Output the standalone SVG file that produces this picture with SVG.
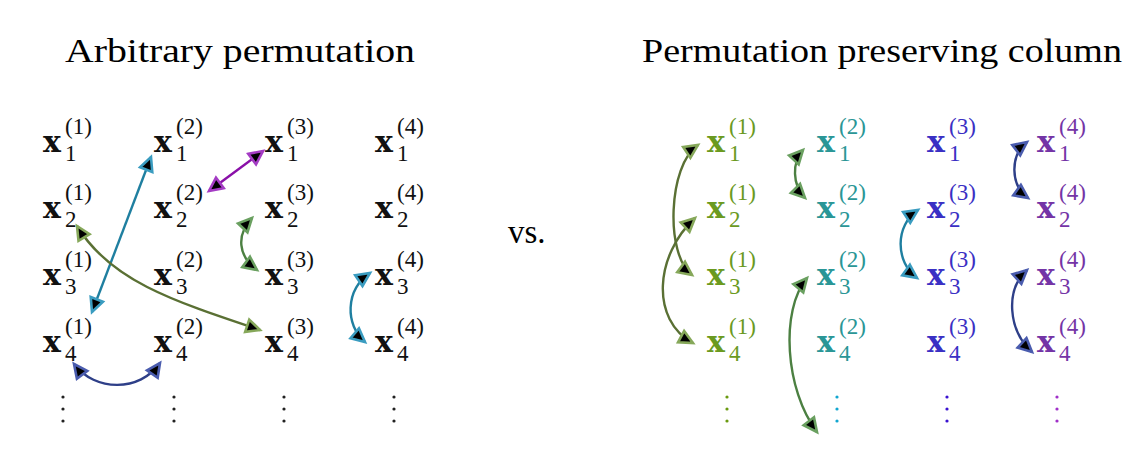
<svg xmlns="http://www.w3.org/2000/svg" width="1137" height="465" viewBox="0 0 1137 465">
<style>
.title{font-family:"Liberation Serif","DejaVu Serif","Times New Roman",serif;font-size:33px;fill:#000}
.m{font-family:"Liberation Serif","DejaVu Serif",serif;font-size:23px}
.bx{font-family:"DejaVu Serif","Liberation Serif",serif;font-weight:bold;font-size:30px}
.k{fill:#111}
.c1{fill:#6b9a1f}.c2{fill:#2a9696}.c3{fill:#3a30c4}.c4{fill:#7434a6}
.ln{fill:none;stroke-width:2.4}
.blue{stroke:#1f7fa0;marker-start:url(#mBlue);marker-end:url(#mBlue)}
.purple{stroke:#8a10a8;marker-start:url(#mPurple);marker-end:url(#mPurple)}
.olive{stroke:#5a7034;marker-start:url(#mOlive);marker-end:url(#mOlive)}
.green{stroke:#4c8042;marker-start:url(#mGreen);marker-end:url(#mGreen)}
.navy{stroke:#2e3f88;marker-start:url(#mNavy);marker-end:url(#mNavy)}
</style>
<defs>
<marker id="mBlue" viewBox="-3 -3 20 19" refX="13.5" refY="6.5" markerWidth="20" markerHeight="19" orient="auto-start-reverse" markerUnits="userSpaceOnUse"><path d="M0,0 L13.5,6.5 L0,13 z" fill="#000" stroke="#3a9cc0" stroke-width="2.6" stroke-linejoin="miter"/></marker>
<marker id="mPurple" viewBox="-3 -3 20 19" refX="13.5" refY="6.5" markerWidth="20" markerHeight="19" orient="auto-start-reverse" markerUnits="userSpaceOnUse"><path d="M0,0 L13.5,6.5 L0,13 z" fill="#000" stroke="#a43cc4" stroke-width="2.6"/></marker>
<marker id="mOlive" viewBox="-3 -3 20 19" refX="13.5" refY="6.5" markerWidth="20" markerHeight="19" orient="auto-start-reverse" markerUnits="userSpaceOnUse"><path d="M0,0 L13.5,6.5 L0,13 z" fill="#000" stroke="#86a85a" stroke-width="2.6"/></marker>
<marker id="mGreen" viewBox="-3 -3 20 19" refX="13.5" refY="6.5" markerWidth="20" markerHeight="19" orient="auto-start-reverse" markerUnits="userSpaceOnUse"><path d="M0,0 L13.5,6.5 L0,13 z" fill="#000" stroke="#6aa060" stroke-width="2.6"/></marker>
<marker id="mNavy" viewBox="-3 -3 20 19" refX="13.5" refY="6.5" markerWidth="20" markerHeight="19" orient="auto-start-reverse" markerUnits="userSpaceOnUse"><path d="M0,0 L13.5,6.5 L0,13 z" fill="#000" stroke="#4a5cae" stroke-width="2.6"/></marker>
</defs>
<rect width="1137" height="465" fill="#fff"/>

<g id="title-left"><text class="title" x="65" y="62" textLength="350" lengthAdjust="spacingAndGlyphs">Arbitrary permutation</text></g>
<g id="title-right"><text class="title" x="642" y="62" textLength="480" lengthAdjust="spacingAndGlyphs">Permutation preserving column</text></g>
<g id="vs"><text class="title" x="508" y="243">vs.</text></g>

<!-- Left grid -->
<g id="L11"><text class="m k"><tspan class="bx" x="43" y="152">x</tspan><tspan x="65" y="161">1</tspan><tspan x="65" y="134">(1)</tspan></text></g>
<g id="L21"><text class="m k"><tspan class="bx" x="43" y="218">x</tspan><tspan x="65" y="227">2</tspan><tspan x="65" y="200">(1)</tspan></text></g>
<g id="L31"><text class="m k"><tspan class="bx" x="43" y="285">x</tspan><tspan x="65" y="294">3</tspan><tspan x="65" y="267">(1)</tspan></text></g>
<g id="L41"><text class="m k"><tspan class="bx" x="43" y="352">x</tspan><tspan x="65" y="361">4</tspan><tspan x="65" y="334">(1)</tspan></text></g>
<g id="L12"><text class="m k"><tspan class="bx" x="154" y="152">x</tspan><tspan x="176" y="161">1</tspan><tspan x="176" y="134">(2)</tspan></text></g>
<g id="L22"><text class="m k"><tspan class="bx" x="154" y="218">x</tspan><tspan x="176" y="227">2</tspan><tspan x="176" y="200">(2)</tspan></text></g>
<g id="L32"><text class="m k"><tspan class="bx" x="154" y="285">x</tspan><tspan x="176" y="294">3</tspan><tspan x="176" y="267">(2)</tspan></text></g>
<g id="L42"><text class="m k"><tspan class="bx" x="154" y="352">x</tspan><tspan x="176" y="361">4</tspan><tspan x="176" y="334">(2)</tspan></text></g>
<g id="L13"><text class="m k"><tspan class="bx" x="265" y="152">x</tspan><tspan x="287" y="161">1</tspan><tspan x="287" y="134">(3)</tspan></text></g>
<g id="L23"><text class="m k"><tspan class="bx" x="265" y="218">x</tspan><tspan x="287" y="227">2</tspan><tspan x="287" y="200">(3)</tspan></text></g>
<g id="L33"><text class="m k"><tspan class="bx" x="265" y="285">x</tspan><tspan x="287" y="294">3</tspan><tspan x="287" y="267">(3)</tspan></text></g>
<g id="L43"><text class="m k"><tspan class="bx" x="265" y="352">x</tspan><tspan x="287" y="361">4</tspan><tspan x="287" y="334">(3)</tspan></text></g>
<g id="L14"><text class="m k"><tspan class="bx" x="375" y="152">x</tspan><tspan x="397" y="161">1</tspan><tspan x="397" y="134">(4)</tspan></text></g>
<g id="L24"><text class="m k"><tspan class="bx" x="375" y="218">x</tspan><tspan x="397" y="227">2</tspan><tspan x="397" y="200">(4)</tspan></text></g>
<g id="L34"><text class="m k"><tspan class="bx" x="375" y="285">x</tspan><tspan x="397" y="294">3</tspan><tspan x="397" y="267">(4)</tspan></text></g>
<g id="L44"><text class="m k"><tspan class="bx" x="375" y="352">x</tspan><tspan x="397" y="361">4</tspan><tspan x="397" y="334">(4)</tspan></text></g>

<g id="L-dots" fill="#222">
<circle cx="63" cy="397" r="1.6"/><circle cx="63" cy="409" r="1.6"/><circle cx="63" cy="421" r="1.6"/>
<circle cx="174" cy="397" r="1.6"/><circle cx="174" cy="409" r="1.6"/><circle cx="174" cy="421" r="1.6"/>
<circle cx="284" cy="397" r="1.6"/><circle cx="284" cy="409" r="1.6"/><circle cx="284" cy="421" r="1.6"/>
<circle cx="394" cy="397" r="1.6"/><circle cx="394" cy="409" r="1.6"/><circle cx="394" cy="421" r="1.6"/>
</g>

<!-- Right grid -->
<g id="R11"><text class="m c1"><tspan class="bx" x="707" y="152">x</tspan><tspan x="729" y="161">1</tspan><tspan x="729" y="134">(1)</tspan></text></g>
<g id="R21"><text class="m c1"><tspan class="bx" x="707" y="218">x</tspan><tspan x="729" y="227">2</tspan><tspan x="729" y="200">(1)</tspan></text></g>
<g id="R31"><text class="m c1"><tspan class="bx" x="707" y="285">x</tspan><tspan x="729" y="294">3</tspan><tspan x="729" y="267">(1)</tspan></text></g>
<g id="R41"><text class="m c1"><tspan class="bx" x="707" y="352">x</tspan><tspan x="729" y="361">4</tspan><tspan x="729" y="334">(1)</tspan></text></g>
<g id="R12"><text class="m c2"><tspan class="bx" x="817" y="152">x</tspan><tspan x="839" y="161">1</tspan><tspan x="839" y="134">(2)</tspan></text></g>
<g id="R22"><text class="m c2"><tspan class="bx" x="817" y="218">x</tspan><tspan x="839" y="227">2</tspan><tspan x="839" y="200">(2)</tspan></text></g>
<g id="R32"><text class="m c2"><tspan class="bx" x="817" y="285">x</tspan><tspan x="839" y="294">3</tspan><tspan x="839" y="267">(2)</tspan></text></g>
<g id="R42"><text class="m c2"><tspan class="bx" x="817" y="352">x</tspan><tspan x="839" y="361">4</tspan><tspan x="839" y="334">(2)</tspan></text></g>
<g id="R13"><text class="m c3"><tspan class="bx" x="927" y="152">x</tspan><tspan x="949" y="161">1</tspan><tspan x="949" y="134">(3)</tspan></text></g>
<g id="R23"><text class="m c3"><tspan class="bx" x="927" y="218">x</tspan><tspan x="949" y="227">2</tspan><tspan x="949" y="200">(3)</tspan></text></g>
<g id="R33"><text class="m c3"><tspan class="bx" x="927" y="285">x</tspan><tspan x="949" y="294">3</tspan><tspan x="949" y="267">(3)</tspan></text></g>
<g id="R43"><text class="m c3"><tspan class="bx" x="927" y="352">x</tspan><tspan x="949" y="361">4</tspan><tspan x="949" y="334">(3)</tspan></text></g>
<g id="R14"><text class="m c4"><tspan class="bx" x="1037" y="152">x</tspan><tspan x="1059" y="161">1</tspan><tspan x="1059" y="134">(4)</tspan></text></g>
<g id="R24"><text class="m c4"><tspan class="bx" x="1037" y="218">x</tspan><tspan x="1059" y="227">2</tspan><tspan x="1059" y="200">(4)</tspan></text></g>
<g id="R34"><text class="m c4"><tspan class="bx" x="1037" y="285">x</tspan><tspan x="1059" y="294">3</tspan><tspan x="1059" y="267">(4)</tspan></text></g>
<g id="R44"><text class="m c4"><tspan class="bx" x="1037" y="352">x</tspan><tspan x="1059" y="361">4</tspan><tspan x="1059" y="334">(4)</tspan></text></g>

<g id="R-dots">
<g fill="#6a9a10"><circle cx="727" cy="397" r="1.6"/><circle cx="727" cy="409" r="1.6"/><circle cx="727" cy="421" r="1.6"/></g>
<g fill="#12a6d0"><circle cx="837" cy="397" r="1.6"/><circle cx="837" cy="409" r="1.6"/><circle cx="837" cy="421" r="1.6"/></g>
<g fill="#3a12d0"><circle cx="947" cy="397" r="1.6"/><circle cx="947" cy="409" r="1.6"/><circle cx="947" cy="421" r="1.6"/></g>
<g fill="#a030c8"><circle cx="1057" cy="397" r="1.6"/><circle cx="1057" cy="409" r="1.6"/><circle cx="1057" cy="421" r="1.6"/></g>
</g>

<g id="connectors">
<path class="ln blue" d="M92,312 L151,157"/>
<path class="ln purple" d="M209,191 L263,151"/>
<path class="ln olive" d="M77,226 C110,280 170,300 260,330"/>
<path class="ln green" d="M252,218 C236,235 238,256 257,270"/>
<path class="ln blue" d="M370,273 C345,290 345,325 365,342"/>
<path class="ln navy" d="M74,364 C95,392 140,392 160,363"/>

<path class="ln olive" d="M698,145 C668,165 665,255 692,275"/>
<path class="ln olive" d="M695,218 C655,255 650,320 693,343"/>
<path class="ln green" d="M803,150 C792,162 792,185 805,198"/>
<path class="ln green" d="M807,278 C780,310 785,390 817,432"/>
<path class="ln blue" d="M918,210 C895,225 895,262 917,278"/>
<path class="ln navy" d="M1027,142 C1010,155 1010,185 1028,198"/>
<path class="ln navy" d="M1027,270 C1005,290 1008,330 1032,352"/>
</g>
</svg>
